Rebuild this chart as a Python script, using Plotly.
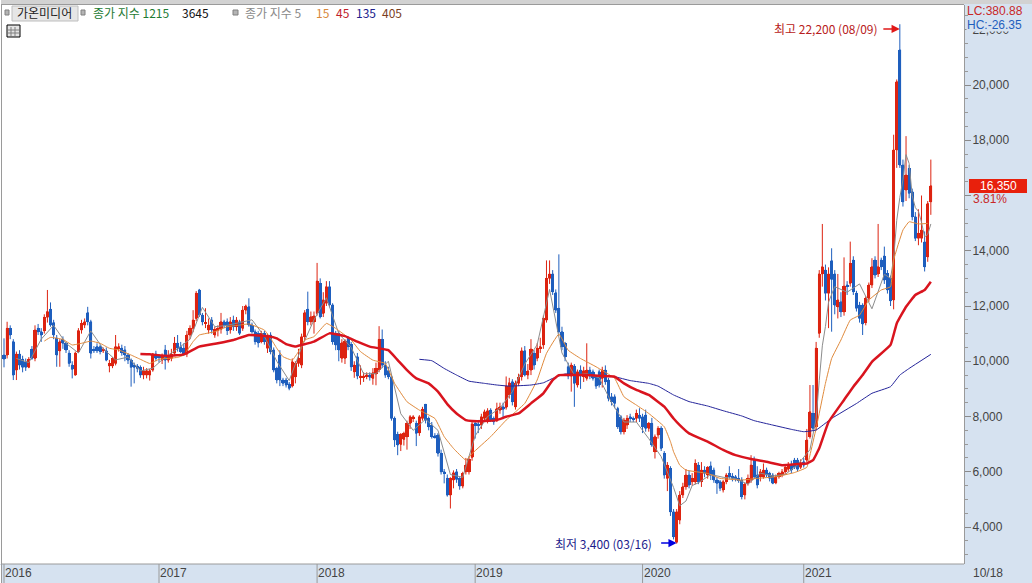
import plotly.graph_objects as go

opens = [
 10225,10225,11190,10710,9680,10260,10070,9980,9780,10430,
 10100,11190,11070,11110,11590,11880,11400,10830,10380,10790,
 10650,10290,9860,9500,10350,11130,11310,11760,11430,10430,
 10530,10530,10380,10380,9830,9830,9920,10470,10470,10410,
 10225,10040,9860,9830,9780,9500,9500,9500,9680,10260,
 10190,10040,10410,10040,10100,10290,10650,10530,10470,10260,
 10950,11190,11550,12580,11670,11370,11130,11490,10950,11130,
 11150,11430,11430,11130,11490,11250,11430,11190,11850,11975,
 11310,11070,11010,10710,11010,10470,10950,10410,9740,10225,
 9320,9320,9170,9100,9440,9920,9860,10890,11880,11430,
 11430,11730,12820,11730,12100,12700,12040,11010,11010,
 10105,10105,10830,10610,9620,10165,9415,9415,9465,9500,
 9380,9540,9700,10790,9860,9660,9440,7930,7350,6990,
 7170,7270,7750,7930,7750,7410,7930,8440,7930,7690,
 7300,7330,6665,6000,5760,5155,5700,6000,5760,5480,
 6000,6000,6520,7750,7730,7690,7930,7870,8230,7930,
 7870,8230,8350,8330,8780,9260,8350,9200,9440,10380,
 9500,9680,10285,10105,10470,10590,11490,13000,13160,12480,
 11915,11070,10650,9800,9465,9825,9140,9680,9440,9380,
 9680,9620,9440,9620,9380,9680,9320,8715,8715,8290,
 7990,7450,7690,7990,7930,7930,8050,7990,8050,7570,
 7750,6725,7330,7570,6665,5760,
 6120,4550,3450,4250,5160,5460,5880,5640,5640,6240,
 5640,6060,5880,6210,6060,5700,5640,5340,5640,5940,
 5840,5820,5760,5700,5160,5580,5700,6420,5880,5820,
 5820,6060,5940,5880,5600,5820,5880,6000,6090,6240,
 6420,6420,6160,6360,
 6420,7270,8110,7630,11010,13160,13300,12460,13640,13160,
 11970,12150,11790,12760,12820,13660,12460,12030,12030,11400,
 12280,12760,13660,13160,13660,13810,13180,13000,12220,
 17650,21270,17100,16200,16980,16140,15230,14450,14450,14320,13780,15775,
]
highs = [
 10830,11430,11300,10800,10350,10400,10200,10100,10150,10550,
 11300,11350,11200,11700,12580,12130,11500,10950,10800,10900,
 10700,10400,10000,10350,11200,11500,11550,11970,11500,10550,
 10650,10600,10500,10500,10050,10150,10950,10650,10600,10550,
 10300,10100,9950,9900,9850,9800,9750,9720,10300,10380,
 10260,10280,10590,10400,10450,10880,10950,10700,10650,11100,
 11300,11850,12540,12620,11750,11920,11550,11600,11250,11300,
 11750,11500,11550,11600,11650,11600,11500,12000,12050,12280,
 11400,11150,11100,11100,11100,11000,11050,10500,9800,10400,
 9400,9400,9250,10100,10000,10450,11000,11850,12520,11800,
 11800,13560,13000,12500,12900,12900,12100,11100,11100,
 10800,10800,10900,10700,10000,10300,9850,9600,9600,9600,
 9750,9950,11270,11150,10000,9800,9500,8000,7450,7400,
 7450,7850,8050,8050,7850,8050,8350,8450,8000,7800,
 7400,7400,6800,6100,5900,5800,6050,6100,5800,6000,
 6500,6550,7800,7800,7800,8100,8250,8300,8300,8000,
 8500,8500,8500,9450,9400,9350,9300,9550,10500,10550,
 9900,10800,10400,10650,10850,11650,13650,13650,13300,12600,
 13870,11250,10700,9950,9950,9900,9700,9850,9800,10650,
 9800,9700,9500,9700,9800,9850,9400,8850,8800,8350,
 8050,7950,8050,8100,8000,8250,8300,8100,8250,7800,
 7950,7350,7650,7650,6750,6350,
 6200,4650,4650,5300,5600,6100,6050,5950,6450,6350,
 6350,6200,6200,6370,6150,5800,5700,5700,5950,6200,
 5950,5880,6100,5800,5600,5900,6600,6550,6200,6100,
 6300,6150,6000,5950,5900,6000,6100,6250,6350,6400,
 6500,6500,6450,6500,
 7550,9140,9140,10700,13300,14970,13500,13400,14090,13300,
 13160,12500,13760,12900,14330,13800,12550,12150,12100,12350,
 12850,13730,13800,14970,13750,14150,13300,13100,18200,
 20200,22200,17300,18150,17100,16250,15400,15500,16000,14700,15800,17300,
]
lows = [
 9780,10100,10800,9320,9320,9700,9600,9650,9750,10050,
 10000,10950,10700,11000,11400,11250,10800,9800,9800,10450,
 10300,9800,9380,9480,10300,11000,11200,11300,10100,10300,
 10300,10250,10300,10000,9600,9750,9850,10350,10200,10000,
 9900,9080,9200,9600,9400,9350,9380,9300,9620,10000,
 9950,9900,9700,9950,10000,10200,10350,10300,10200,10150,
 10800,11050,11450,11600,11300,11200,11000,11000,10850,10900,
 11000,11200,10950,11000,11100,11100,10950,11100,11700,11250,
 11000,10600,10500,10650,10600,10300,10250,9600,9200,9100,
 9100,9050,8950,9050,9200,9800,9750,10750,11300,11300,
 11000,11650,11550,11600,12000,11950,10600,10400,10000,
 9950,9900,10400,9650,9400,9350,9150,9250,9350,9300,
 9150,9130,9600,9750,9400,9350,7850,6900,6600,6750,
 6950,6800,7550,7800,6930,7300,7850,7750,7500,7200,
 7200,6550,5900,5580,5100,4670,5400,5600,5350,5400,
 5900,5900,6400,7200,7400,7550,7800,7750,7800,7700,
 7800,8100,7900,8250,8650,8400,8250,9100,9300,9450,
 9350,9500,9700,10000,10300,10450,11400,12800,12400,11750,
 11000,10400,10000,9350,8900,8350,9050,9000,9250,9300,
 9350,9300,9000,9050,9050,9150,8550,8400,8300,7550,
 7350,7350,7550,7800,7800,7800,7800,7400,7450,7450,
 6900,6480,7200,6750,5750,5300,
 4400,3550,3400,4100,5050,5350,5400,5500,5550,5550,
 5450,5800,5750,5700,5600,5200,5300,5250,5550,5750,
 5650,5650,5600,5000,5000,5500,5600,5750,5400,5650,
 5750,5800,5650,5550,5550,5750,5800,5900,6000,5950,
 6100,6000,6100,6150,
 6350,7200,7500,7500,10850,12700,12200,11200,11070,11700,
 11550,11600,11650,12400,12700,12400,11800,11400,10950,11300,
 12150,12650,13000,13050,13300,12800,12450,12000,11880,
 17000,17000,15600,15800,15900,15100,14350,14200,14300,13250,13600,15300,
]
closes = [
 10080,11190,10950,9500,10260,9860,9780,9780,10070,10100,
 11130,11070,10950,11590,11800,11310,10950,10225,10710,10650,
 10410,9920,9710,10290,11110,11370,11430,11430,10290,10380,
 10380,10350,10430,10040,9920,10100,10530,10530,10310,10225,
 10040,9780,9780,9740,9500,9660,9660,9660,10260,10100,
 10140,10190,10040,10225,10260,10650,10470,10350,10260,10950,
 11190,11490,12460,11670,11430,11400,11310,11130,11150,11190,
 11430,11300,11110,11430,11250,11490,11010,11850,12000,11310,
 11070,10710,10670,11010,10710,10950,10350,9680,9320,9320,
 9200,9140,9020,9980,9920,10100,10890,11760,11430,11610,
 11640,12900,11610,12220,12700,12040,10710,10590,10410,
 10670,10740,10530,9800,9860,9465,9465,9465,9500,9420,
 9585,9740,10790,9860,9500,9440,7930,7150,6970,7350,
 7390,7750,7990,7990,7390,7990,8260,7870,7630,7270,
 7250,6665,6000,5940,5155,5760,5965,5720,5480,5940,
 6240,6450,7730,7690,7690,7990,8170,8210,7870,7810,
 8290,8350,8260,9100,9220,8535,9200,9415,10380,9500,
 9650,10440,9860,10470,10530,11550,13000,13160,12520,11850,
 11070,10530,10165,9465,9860,9200,9620,9465,9660,9680,
 9465,9380,9100,9140,9680,9260,8655,8535,8475,7630,
 7450,7870,7930,7930,7900,8110,7930,7630,7570,7750,
 6965,7270,7570,6845,5880,6240,
 4550,3650,4550,5160,5460,5880,5520,5760,6300,5640,
 6060,5940,6160,5880,5700,5580,5400,5640,5880,5820,
 5760,5720,5700,5100,5550,5760,6240,5820,5520,6000,
 6060,5880,5760,5580,5820,5940,6000,6160,6210,6060,
 6160,6090,6330,6240,
 7150,8170,7570,10470,13160,13420,12460,13160,12960,12030,
 12220,11790,12720,12720,13540,12520,11915,11550,11350,12280,
 12760,13420,13120,13420,13420,12940,12580,12190,17650,
 20120,17100,15775,16740,16080,15230,14450,14630,14750,13420,15710,16350,
]
assert len(opens) == len(highs) == len(lows) == len(closes)
weeks = list(range(len(opens)))

ma5_week = [4,8,12,16,20,24,28,32,36,40,44,48,52,56,60,64,68,72,76,80,84,88,92,96,100,104,108,112,116,120,124,128,132,136,140,144,148,152,156,160,164,168,172,176,180,184,188,192,196,200,204,208,212,216,218,220,222,224,228,232,236,240,244,248,252,256,260,262,263,264,265,266,268,272,276,280,284,286,287,288,289,290,291,292,293,294,295,296,297,298,299]
ma5_value = [10100,9950,10800,11300,10650,10300,11100,10450,10050,10150,9650,9750,10150,10450,10800,11950,11250,11300,11400,11500,10900,10000,9300,10500,11500,12300,11000,10500,9550,9550,10000,8100,7500,7900,7500,5900,5800,7300,8000,8300,8900,9900,10600,12600,10300,9500,9550,9400,8500,7800,7800,7200,6550,5430,4770,4940,5500,5600,5900,5800,5750,5550,5950,5850,5900,6250,6800,7920,9300,10560,11260,12140,12700,12500,12800,11900,13150,13000,13720,15100,15930,16570,17480,17160,15990,15560,15430,15030,14500,14590,14970]

ma15_week = [13,15,19,22,25,28,31,34,37,41,44,47,50,56,58,61,63,68,72,76,79,84,86,88,90,93,95,97,100,104,107,112,115,119,123,126,130,134,139,142,145,149,151,157,162,168,172,175,179,182,186,191,197,200,204,208,213,215,216,218,220,227,231,238,243,249,255,259,260,262,265,267,270,273,276,279,283,286,287,290,292,295,298]
ma15_value = [10730,10865,10790,10590,10650,10730,10650,10470,10410,10225,10070,9920,10070,10140,10225,10710,10950,11070,11250,11310,11350,11130,10830,10470,10165,10040,10350,10770,10890,11370,11190,10770,10350,10040,9920,9200,8535,8230,7930,7270,6845,6420,6660,7270,7870,8475,9320,10285,10985,10400,10100,9800,9380,8715,8415,8110,7630,7090,6725,6240,6060,5940,5760,5700,5760,5820,5970,6160,6600,7570,9200,10100,10770,11490,11670,12215,12580,12700,13665,14750,15050,14970,14990]

ma45_week = [44,47,53,58,63,69,74,79,85,88,91,94,96,100,105,110,114,118,121,124,127,130,133,137,140,143,146,149,151,155,159,162,166,170,174,177,179,183,188,193,197,200,204,208,213,216,218,221,227,232,236,241,246,251,256,259,261,263,266,271,274,277,280,286,288,291,294,297,299]
ma45_value = [10260,10250,10190,10250,10530,10650,10770,10950,10910,10830,10620,10530,10590,10710,11010,10910,10710,10530,10470,10400,10040,9680,9380,9200,8900,8450,8110,7870,7835,7835,7870,7990,8110,8475,8840,9320,9500,9500,9500,9465,9440,9200,8960,8780,8355,7930,7690,7390,7090,6790,6600,6460,6360,6240,6280,6300,6420,6850,7800,8600,9080,9500,9980,10590,11370,11975,12400,12580,12880]

ma135_week = [134,138,142,146,150,155,159,163,170,174,177,181,187,197,202,208,211,216,221,227,232,238,242,248,254,258,262,267,275,280,286,289,292,299]
ma135_value = [10070,10020,9740,9500,9280,9200,9140,9100,9140,9220,9380,9540,9500,9440,9300,9200,9100,8780,8540,8380,8210,8020,7850,7690,7535,7450,7510,7930,8470,8840,9080,9500,9740,10250]

year_labels = ["2016", "2017", "2018", "2019", "2020", "2021"]
year_weeks = [0, 50, 101, 152, 206, 258]
price_ticks = [4000, 6000, 8000, 10000, 12000, 14000, 16000, 18000, 20000, 22000]
price_tick_text = ["4,000", "6,000", "8,000", "10,000", "12,000", "14,000", "", "18,000", "20,000", "22,000"]

RED = "#DD2411"
BLUE = "#1F5FBE"
PANEL = "#D6E2F0"
FONT = "Liberation Sans"
KFONT = "Noto Sans CJK KR"

L, R, T, B = 2, 964, 5, 564
W, H = 1032, 583


def px(x):
    return (x - L) / (R - L)


def py(y):
    return (B - y) / (B - T)


def rect(x0, y0, x1, y1, fill, line=None, width=1):
    return dict(type="rect", xref="paper", yref="paper", x0=px(x0), x1=px(x1), y0=py(y0), y1=py(y1),
                fillcolor=fill, line=dict(color=line or fill, width=width if line else 0), layer="above")


def seg(x0, y0, x1, y1, color, width=1):
    return dict(type="line", xref="paper", yref="paper", x0=px(x0), x1=px(x1), y0=py(y0), y1=py(y1),
                line=dict(color=color, width=width), layer="above")


def label(x, y, text, color, size=12, family=KFONT, **kw):
    return dict(xref="paper", yref="paper", x=px(x), y=py(y), text=text, showarrow=False, xanchor=kw.pop("xanchor", "left"),
                yanchor="middle", borderpad=0, font=dict(color=color, size=size, family=family), **kw)


fig = go.Figure()
fig.add_trace(go.Candlestick(
    x=weeks, open=opens, high=highs, low=lows, close=closes,
    increasing=dict(line=dict(color=RED, width=1), fillcolor=RED),
    decreasing=dict(line=dict(color=BLUE, width=1), fillcolor=BLUE),
    whiskerwidth=0, showlegend=False, hoverinfo="skip"))
fig.add_trace(go.Bar(
    x=weeks, base=[min(o, c) for o, c in zip(opens, closes)],
    y=[max(abs(c - o), 50) for o, c in zip(opens, closes)],
    width=1.0, marker=dict(color=[RED if c >= o else BLUE for o, c in zip(opens, closes)], line=dict(width=0)),
    showlegend=False, hoverinfo="skip"))

for wk, val, color, width, shape in [
    (ma5_week, ma5_value, "#8C8C8C", 1, "linear"),
    (ma15_week, ma15_value, "#E08A3C", 1, "spline"),
    (ma135_week, ma135_value, "#24249A", 1, "spline"),
    (ma45_week, ma45_value, "#D9141E", 2.5, "spline"),
]:
    fig.add_trace(go.Scatter(x=wk, y=val, mode="lines", showlegend=False, hoverinfo="skip",
                             line=dict(color=color, width=width, shape=shape, **({"smoothing": 0.3} if shape == "spline" else {}))))

peak_week = highs.index(max(highs))
low_week = lows.index(min(lows))

shapes = [
    rect(0, 0, W, 4, "#D2D2D2"),
    seg(0, 4.5, 964, 4.5, "#9A9A9A", 1),
    rect(0, 0, 1, 564, "#FFFFFF"),
    seg(1.5, 4, 1.5, 583, "#9A9A9A", 1),
    seg(1, 564, 964, 564, "#9A9A9A", 1),
    rect(0, 565, 1, 583, "#FFFFFF"),
    # legend chips and the table icon
    rect(5, 10, 9, 15, "#B4B4B4", "#808080"),
    rect(12, 6, 78, 21, "#E6E6E6", "#BEBEBE"),
    rect(81, 10, 85, 15, "#B4B4B4", "#808080"),
    rect(233, 10, 238, 15, "#B4B4B4", "#808080"),
    rect(7, 25, 20, 37, "#E4E4E4", "#000000"),
    seg(11, 27, 11, 36, "#808080"), seg(15, 27, 15, 36, "#808080"),
    seg(8, 30, 19, 30, "#808080"), seg(8, 33, 19, 33, "#808080"),
    rect(969, 179, 1027, 193, "#E8200C"),
]
for w in year_weeks:
    shapes.append(dict(type="line", xref="x", yref="paper", x0=w, x1=w, y0=py(564), y1=py(583),
                       line=dict(color="#9A9A9A", width=1), layer="above"))

annotations = [
    label(16, 13, "가온미디어", "#222222"),
    label(92, 13, "종가 지수 1215", "#1E7B34"),
    label(181, 13, "3645", "#111111"),
    label(244, 13, "종가 지수 5", "#8A8A8A"),
    label(315, 13, "15", "#D9883A"),
    label(335, 13, "45", "#C0202A"),
    label(355, 13, "135", "#20208C"),
    label(381, 13, "405", "#7A3E1E"),
    label(966, 24, "HC:-26.35", "#1F5FBE", size=12, family=FONT, bgcolor=PANEL, width=60, height=13, align="left"),
    label(966, 11, "LC:380.88", "#C82828", size=12, family=FONT),
    label(998, 186, "16,350", "#FFFFFF", size=12, family=FONT, xanchor="center"),
    label(972, 199, "3.81%", "#C82828", size=12, family=FONT),
    label(972, 573, "10/18", "#444444", size=12, family=FONT),
    dict(x=peak_week, y=22030, xref="x", yref="y", text="", showarrow=True, ax=-18, ay=0,
         arrowhead=2, arrowsize=1.1, arrowwidth=1.5, arrowcolor="#E01818"),
    dict(x=peak_week, y=22030, xref="x", yref="y", text="최고 22,200 (08/09)", showarrow=False, xanchor="right",
         xshift=-20, font=dict(color="#B82020", size=12, family=KFONT)),
    dict(x=low_week, y=3420, xref="x", yref="y", text="", showarrow=True, ax=-17, ay=0,
         arrowhead=2, arrowsize=1.1, arrowwidth=1.5, arrowcolor="#0000E0"),
    dict(x=low_week, y=3420, xref="x", yref="y", text="최저 3,400 (03/16)", showarrow=False, xanchor="right",
         xshift=-23, font=dict(color="#1A1A8C", size=12, family=KFONT)),
]
for w, txt in zip(year_weeks, year_labels):
    annotations.append(dict(x=w, y=py(573), xref="x", yref="paper", text=txt, showarrow=False, xanchor="left",
                            yanchor="middle", xshift=-1, font=dict(color="#444444", size=12, family=FONT)))

fig.update_layout(
    width=W, height=H, margin=dict(l=L, r=W - R, t=T, b=H - B, pad=0),
    paper_bgcolor=PANEL, plot_bgcolor="#FFFFFF", showlegend=False, hovermode=False, barmode="overlay", bargap=0,
    shapes=shapes, annotations=annotations,
    xaxis=dict(range=[-0.65, 309.7], showgrid=False, zeroline=False, showticklabels=False, ticks="",
               rangeslider=dict(visible=False), fixedrange=True),
    yaxis=dict(range=[2661, 22896], side="right", showgrid=False, zeroline=False, tickvals=price_ticks, ticktext=price_tick_text,
               ticks="outside", ticklen=6, tickcolor="#8A8A8A", tickwidth=1, ticklabelstandoff=-1,
               tickfont=dict(color="#444444", size=12, family=FONT), showline=True, linecolor="#9A9A9A", linewidth=1,
               minor=dict(dtick=500, tick0=0, ticks="outside", ticklen=3, tickcolor="#9A9A9A", showgrid=False),
               fixedrange=True),
)

fig.write_html("out.html", config=dict(displayModeBar=False),
               post_script="document.body.style.margin='0';document.body.style.overflow='hidden';")
